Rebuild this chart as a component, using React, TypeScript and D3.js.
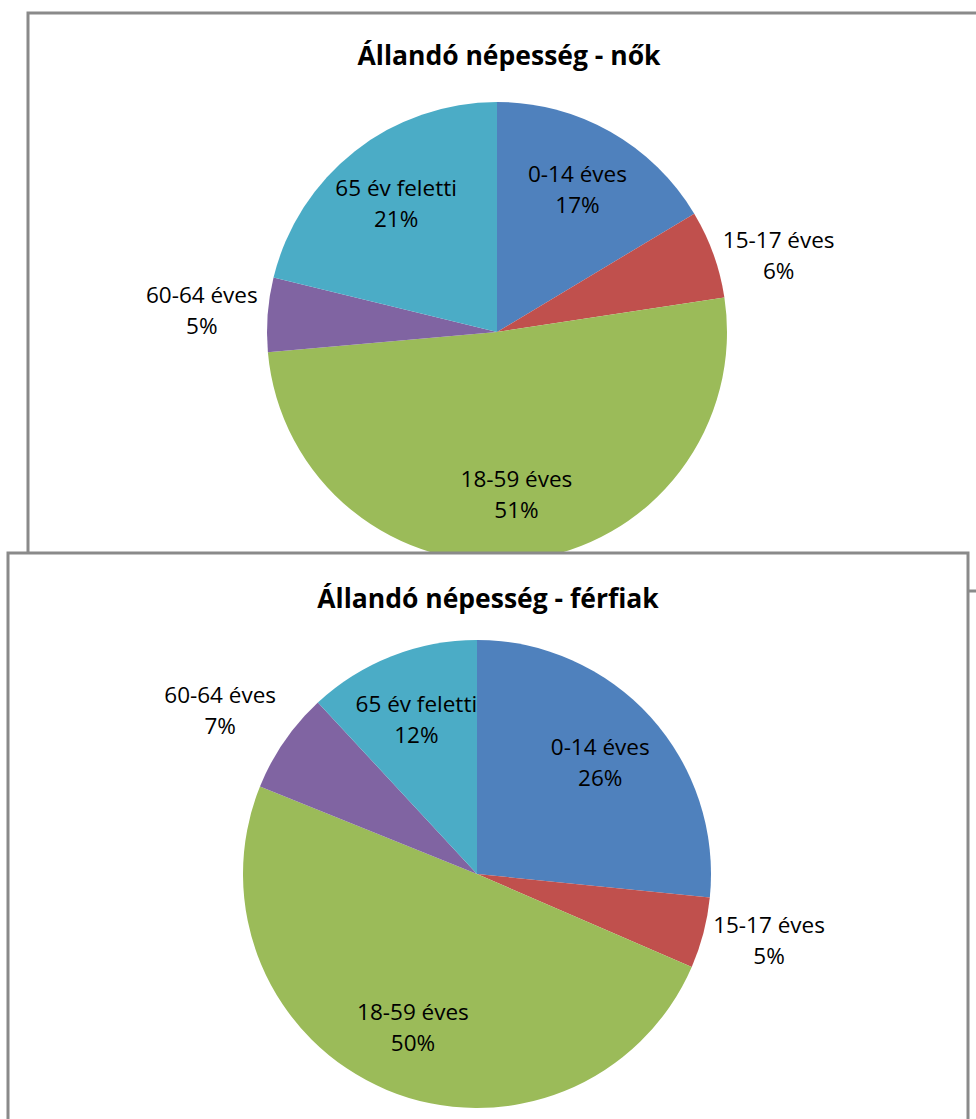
import React, { useEffect, useRef } from "react";
import * as d3 from "d3";

// Age group categories (clockwise from 12 o'clock)
const categories = ["0-14 éves", "15-17 éves", "18-59 éves", "60-64 éves", "65 év feletti"];
const colors = ["#4F81BD", "#C0504D", "#9BBB59", "#8064A2", "#4BACC6"];

// Shares (percent)
const womenValues = [16.4, 6.2, 51.0, 5.2, 21.2];
const womenLabels = ["17%", "6%", "51%", "5%", "21%"];
const menValues = [26.6, 4.9, 49.6, 7.0, 11.9];
const menLabels = ["26%", "5%", "50%", "7%", "12%"];

// Slices whose labels sit outside the pie
const outsideSlices = ["15-17 éves", "60-64 éves"];

const W = 976;
const H = 1119;
const FONT = "'Open Sans', Lato, sans-serif";

type PanelOpts = {
  x: number;
  y: number;
  w: number;
  h: number;
  title: string;
  titleY: number;
  cx: number;
  cy: number;
  r: number;
  values: number[];
  labels: string[];
};

const App: React.FC = () => {
  const svgRef = useRef<SVGSVGElement>(null);

  useEffect(() => {
    if (!svgRef.current) return;
    const svg = d3.select(svgRef.current);
    svg.selectAll("*").remove();

    const drawPanel = (o: PanelOpts) => {
      const g = svg.append("g");

      // panel frame
      g.append("rect")
        .attr("x", o.x)
        .attr("y", o.y)
        .attr("width", o.w)
        .attr("height", o.h)
        .attr("fill", "#fff")
        .attr("stroke", "#8a8a8a")
        .attr("stroke-width", 3);

      g.append("text")
        .attr("x", o.x + o.w / 2)
        .attr("y", o.titleY)
        .attr("text-anchor", "middle")
        .attr("font-family", FONT)
        .attr("font-weight", "bold")
        .attr("font-size", 26.5)
        .attr("fill", "#000")
        .text(o.title);

      const pie = d3
        .pie<number>()
        .sort(null)
        .value((d) => d);
      const arcs = pie(o.values);
      const arc = d3.arc<d3.PieArcDatum<number>>().innerRadius(0).outerRadius(o.r);

      const pg = g.append("g").attr("transform", `translate(${o.cx},${o.cy})`);

      pg.selectAll("path")
        .data(arcs)
        .join("path")
        .attr("d", arc)
        .attr("fill", (_, i) => colors[i]);

      const lineH = 31;
      arcs.forEach((a, i) => {
        const mid = (a.startAngle + a.endAngle) / 2;
        const dx = Math.sin(mid);
        const dy = -Math.cos(mid);
        const lines = [categories[i], o.labels[i]];
        const outside = outsideSlices.includes(categories[i]);
        const t = pg
          .append("text")
          .attr("font-family", FONT)
          .attr("font-size", 22.5)
          .attr("fill", "#000")
          .attr("text-anchor", "middle");

        let tx: number;
        let ty: number; // vertical centre of the two-line block
        if (outside) {
          tx = dx * (o.r + 10);
          ty = dy * (o.r + 10);
          // left-hand labels lean upwards along the ray
          if (dx < 0) ty += dy * lineH * 1.4;
          else ty += 5;
        } else {
          const rr = o.r * 0.71;
          tx = dx * rr;
          ty = dy * rr;
        }
        lines.forEach((ln, k) => {
          t.append("tspan")
            .attr("x", tx)
            .attr("y", ty + (k - 0.5) * lineH + 8)
            .text(ln);
        });
        if (outside) {
          // push the centred block to the outer side of the anchor point
          const bb = (t.node() as SVGTextElement).getBBox();
          const shift = dx > 0 ? bb.width / 2 : -bb.width / 2;
          t.selectAll("tspan").attr("x", tx + shift);
        }
      });
    };

    drawPanel({
      x: 28,
      y: 13,
      w: 962,
      h: 578,
      title: "Állandó népesség - nők",
      titleY: 65,
      cx: 497,
      cy: 332,
      r: 230,
      values: womenValues,
      labels: womenLabels,
    });

    drawPanel({
      x: 8,
      y: 553,
      w: 960,
      h: 580,
      title: "Állandó népesség - férfiak",
      titleY: 608,
      cx: 477,
      cy: 874,
      r: 234,
      values: menValues,
      labels: menLabels,
    });
  }, []);

  return (
    <svg
      ref={svgRef}
      width={W}
      height={H}
      style={{ position: "absolute", left: 0, top: 0, display: "block", background: "#fff" }}
    />
  );
};

export default App;
